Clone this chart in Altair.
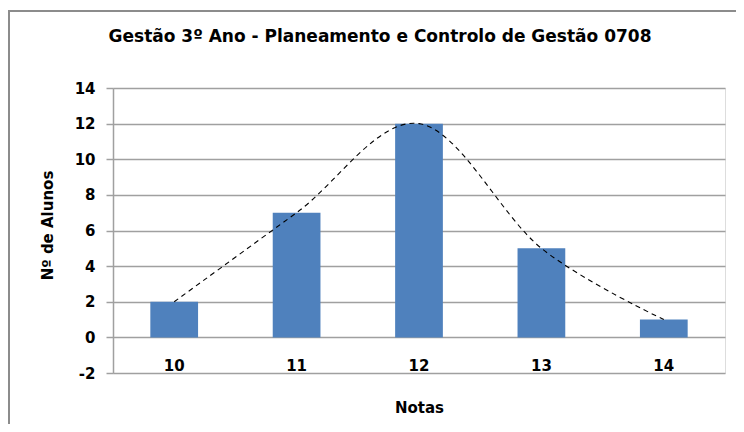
import altair as alt
import pandas as pd

notas = ["10", "11", "12", "13", "14"]
alunos = [2, 7, 12, 5, 1]
y_ticks = [-2, 0, 2, 4, 6, 8, 10, 12, 14]

df = pd.DataFrame({"Notas": notas, "Alunos": alunos})

W, H = 612, 285
FONT = "DejaVu Sans"

x_axis = alt.Axis(
    title="Notas",
    labelAngle=0,
    domain=False,
    ticks=False,
    grid=False,
    offset=-15,
    labelPadding=0,
    labelBaseline="top",
    labelFont=FONT,
    labelFontWeight="bold",
    labelFontSize=15,
    labelColor="#000000",
    titleFont=FONT,
    titleFontWeight="bold",
    titleFontSize=15,
    titleColor="#000000",
    titleY=49,
    titleBaseline="middle",
)
x_scale = alt.Scale(paddingInner=0.61, paddingOuter=0.305)

y_scale = alt.Scale(domain=[-2, 14], nice=False, zero=False)
y_axis = alt.Axis(
    title="Nº de Alunos",
    values=y_ticks,
    labelExpr="datum.value",
    labelOverlap=False,
    grid=True,
    gridColor="#a0a0a0",
    gridWidth=1.5,
    domain=True,
    domainColor="#a0a0a0",
    domainWidth=1.5,
    ticks=True,
    tickSize=7,
    tickColor="#a0a0a0",
    tickWidth=1.5,
    labelPadding=11,
    labelFont=FONT,
    labelFontWeight="bold",
    labelFontSize=15,
    labelColor="#000000",
    titleFont=FONT,
    titleFontWeight="bold",
    titleFontSize=15,
    titleColor="#000000",
    titleAngle=-90,
    titleX=-66,
    titleY=137,
    titleAlign="center",
    titleBaseline="middle",
)

bars = alt.Chart(df).mark_bar(color="#4F81BD").encode(
    x=alt.X("Notas:N", sort=notas, scale=x_scale, axis=x_axis),
    y=alt.Y("Alunos:Q", scale=y_scale, axis=y_axis),
)

curve = alt.Chart(df).mark_line(
    interpolate="cardinal", color="#000000", strokeWidth=1.1, strokeDash=[5, 4]
).encode(
    x=alt.X("Notas:N", sort=notas, scale=x_scale, axis=x_axis),
    y=alt.Y("Alunos:Q", scale=y_scale, axis=y_axis),
)

border = alt.Chart(alt.Data(values=[{"b": 1}])).mark_rect(
    fill=None, stroke="#8c8c8c", strokeWidth=2
).encode(
    x=alt.value(-104),
    x2=alt.value(W + 60),
    y=alt.value(-77),
    y2=alt.value(H + 90),
)

chart = alt.layer(border, bars, curve).properties(
    width=W,
    height=H,
    title=alt.TitleParams(
        "Gestão 3º Ano - Planeamento e Controlo de Gestão 0708",
        font=FONT,
        fontWeight="bold",
        fontSize=17,
        color="#000000",
        anchor="middle",
        frame="group",
        dx=-39,
        offset=-36,
    ),
    padding={"left": 105, "top": 80, "right": 11, "bottom": 51},
    autosize=alt.AutoSizeParams(type="none"),
).configure_view(strokeOpacity=0, strokeWidth=0).configure(background="#ffffff")

chart.save("out.html", embed_options={"renderer": "svg", "actions": False})
